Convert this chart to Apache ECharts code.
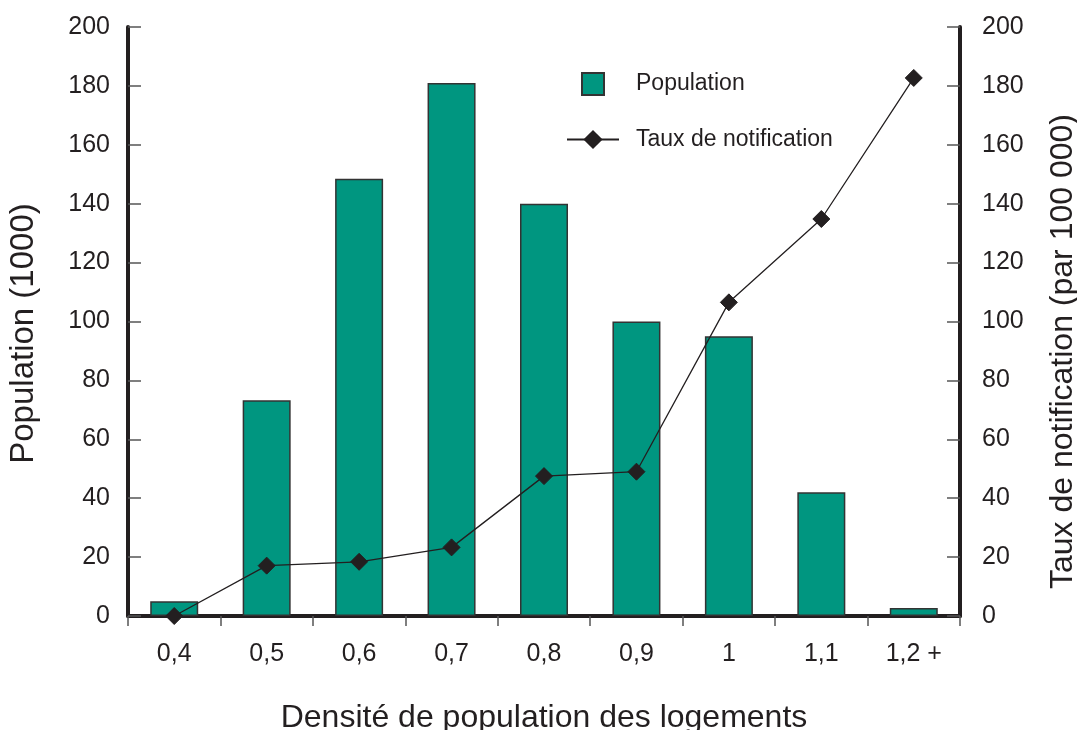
<!DOCTYPE html>
<html><head><meta charset="utf-8">
<script src="https://cdn.jsdelivr.net/npm/echarts@6/dist/echarts.min.js"></script>
<style>html,body{margin:0;padding:0;background:#fff}#c{width:1077px;height:730px}</style>
</head><body><div id="c"></div>
<script>
const categories = ['0,4','0,5','0,6','0,7','0,8','0,9','1','1,1','1,2 +'];
const population = [5, 73.3, 148.5, 181, 140, 100, 95, 42, 2.7];
const taux = [0, 17.1, 18.4, 23.3, 47.5, 49, 106.5, 134.8, 182.7];
const yTicks = { min: 0, max: 200, interval: 20 };

const ink = '#231f20';
const font = 'Liberation Sans, Arial, Helvetica, sans-serif';
const chart = echarts.init(document.getElementById('c'));
chart.setOption({
  animation: false,
  backgroundColor: '#fff',
  textStyle: { fontFamily: font, color: ink },
  grid: { left: 128, right: 117, top: 27, bottom: 114, containLabel: false, outerBoundsMode: 'none' },
  legend: [
    { data: [{ name: 'Population', icon: 'rect' }], orient: 'vertical', left: 581, top: 72, padding: 0,
      itemWidth: 22, itemHeight: 22,
      textStyle: { fontSize: 23, color: ink, fontFamily: font, padding: [0,0,0,27] } },
    { data: ['Taux de notification'], orient: 'vertical', left: 566, top: 128, padding: 0,
      itemWidth: 52, itemHeight: 24,
      textStyle: { fontSize: 23, color: ink, fontFamily: font, padding: [0,0,0,12] } }
  ],
  xAxis: {
    type: 'category', data: categories, boundaryGap: true,
    name: 'Densité de population des logements', nameLocation: 'middle', nameGap: 86,
    nameTextStyle: { fontSize: 32, color: ink, fontFamily: font },
    axisLine: { lineStyle: { color: ink, width: 4 } },
    axisTick: { show: true, length: 10, lineStyle: { color: '#555', width: 1.5 } },
    axisLabel: { fontSize: 25, color: ink, margin: 26, fontFamily: font },
    splitLine: { show: false }
  },
  yAxis: [
    { type: 'value', min: yTicks.min, max: yTicks.max, interval: yTicks.interval, position: 'left',
      name: 'Population (1000)', nameLocation: 'middle', nameGap: 88, nameRotate: 90,
      nameTextStyle: { fontSize: 33, color: ink, fontFamily: font, padding: [0, 24, 0, 0] },
      axisLine: { show: true, lineStyle: { color: ink, width: 4 } },
      axisTick: { show: true, inside: true, length: 13, lineStyle: { color: '#555', width: 1.5 } },
      axisLabel: { fontSize: 25, color: ink, margin: 18, fontFamily: font },
      splitLine: { show: false } },
    { type: 'value', min: yTicks.min, max: yTicks.max, interval: yTicks.interval, position: 'right',
      name: 'Taux de notification (par 100 000)', nameLocation: 'middle', nameGap: 87, nameRotate: 90,
      nameTextStyle: { fontSize: 32, color: ink, fontFamily: font, padding: [0, 60, 0, 0] },
      axisLine: { show: true, lineStyle: { color: ink, width: 4 } },
      axisTick: { show: true, inside: true, length: 13, lineStyle: { color: '#555', width: 1.5 } },
      axisLabel: { fontSize: 25, color: ink, margin: 22, fontFamily: font },
      splitLine: { show: false } }
  ],
  series: [
    { name: 'Population', type: 'bar', yAxisIndex: 0, data: population, barWidth: 48,
      itemStyle: { color: '#009680', borderColor: '#333', borderWidth: 1.5 } },
    { name: 'Taux de notification', type: 'line', yAxisIndex: 1, data: taux,
      symbol: 'diamond', symbolSize: 17, showAllSymbol: true,
      lineStyle: { color: ink, width: 1.3 },
      itemStyle: { color: ink, borderColor: ink } }
  ]
});
</script></body></html>
